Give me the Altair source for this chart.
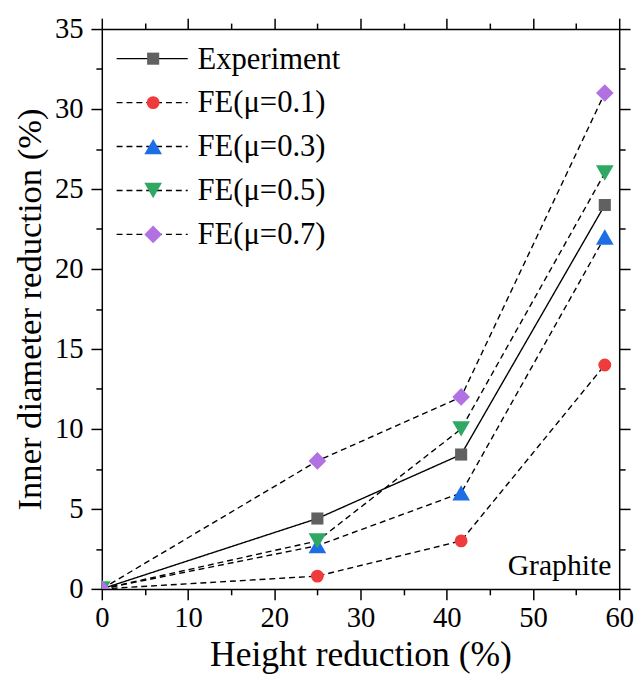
import altair as alt
import pandas as pd

# ---- data ----
height_reduction = [0, 25, 41.67, 58.33]
series_names = ["Experiment", "FE(μ=0.1)", "FE(μ=0.3)", "FE(μ=0.5)", "FE(μ=0.7)"]
experiment = [0, 4.4, 8.4, 24.0]
fe_mu01 = [0, 0.8, 3.0, 14.0]
fe_mu03 = [0, 2.7, 6.0, 22.0]
fe_mu05 = [0, 3.0, 10.0, 26.0]
fe_mu07 = [0, 8.0, 12.0, 31.0]

x_major = [0, 10, 20, 30, 40, 50, 60]
x_minor = [5, 15, 25, 35, 45, 55]
y_major = [0, 5, 10, 15, 20, 25, 30, 35]
y_minor = [2.5, 7.5, 12.5, 17.5, 22.5, 27.5, 32.5]

# ---- styles ----
colors = ["#616161", "#ef3b3b", "#1d6ee6", "#2ea862", "#b171e2"]
shapes = ["square", "circle", "triangle-up", "triangle-down", "diamond"]
sizes = [150, 170, 320, 320, 320]
dashes = [[1, 0], [6, 4], [6, 4], [6, 4], [6, 4]]
FONT = "Liberation Serif"

values = [experiment, fe_mu01, fe_mu03, fe_mu05, fe_mu07]
rows = []
for name, ys in zip(series_names, values):
    for h, d in zip(height_reduction, ys):
        rows.append({"series": name, "h": h, "d": d})
df = pd.DataFrame(rows)

xs = alt.Scale(domain=[0, 60], nice=False, zero=False)
ys_ = alt.Scale(domain=[0, 35], nice=False, zero=False)

common = dict(grid=False, domainColor="black", domainWidth=1.5, tickColor="black",
              tickWidth=1.5, labelFont=FONT, labelFontSize=29, labelColor="black",
              titleFont=FONT, titleColor="black", titleFontWeight="normal")


def xax(orient, vals, size, labels=False, domain=True, title=None, **kw):
    return alt.Axis(orient=orient, values=vals, tickSize=size, labels=labels, domain=domain,
                    title=title, **common, **kw)


base = alt.Chart(df)

lines = base.mark_line(color="black", strokeWidth=1.4).encode(
    x=alt.X("h:Q", scale=xs, axis=xax("bottom", x_major, 11, labels=True,
                                         title="Height reduction (%)", labelFlush=False,
                                         labelPadding=4, titlePadding=6, titleFontSize=36)),
    y=alt.Y("d:Q", scale=ys_, axis=xax("left", y_major, 11, labels=True,
                                          title="Inner diameter reduction (%)",
                                          labelPadding=8, titlePadding=7, titleFontSize=35)),
    strokeDash=alt.StrokeDash("series:N", scale=alt.Scale(domain=series_names, range=dashes),
                              legend=None),
    detail="series:N",
)

points = base.mark_point(filled=True, opacity=1, strokeWidth=0, clip=True).encode(
    x=alt.X("h:Q", scale=xs, axis=xax("bottom", x_minor, 6, domain=False)),
    y=alt.Y("d:Q", scale=ys_, axis=xax("left", y_minor, 6, domain=False)),
    color=alt.Color("series:N", scale=alt.Scale(domain=series_names, range=colors), legend=None),
    shape=alt.Shape("series:N", scale=alt.Scale(domain=series_names, range=shapes), legend=None),
    size=alt.Size("series:N", scale=alt.Scale(type="ordinal", domain=series_names, range=sizes),
                  legend=None),
)

top_right_major = base.mark_point(opacity=0).encode(
    x=alt.X("h:Q", scale=xs, axis=xax("top", x_major, 11)),
    y=alt.Y("d:Q", scale=ys_, axis=xax("right", y_major, 11)),
)
top_right_minor = base.mark_point(opacity=0).encode(
    x=alt.X("h:Q", scale=xs, axis=xax("top", x_minor, 6, domain=False)),
    y=alt.Y("d:Q", scale=ys_, axis=xax("right", y_minor, 6, domain=False)),
)

one = pd.DataFrame({"a": [0]})
legend_layers = []
for i, name in enumerate(series_names):
    yy = 30 + i * 44.5
    legend_layers.append(alt.Chart(one).mark_rule(color="black", strokeWidth=1.4,
                                                  strokeDash=dashes[i]).encode(
        x=alt.value(15), x2=alt.value(87), y=alt.value(yy)))
    legend_layers.append(alt.Chart(one).mark_point(filled=True, opacity=1, strokeWidth=0,
                                                   shape=shapes[i], color=colors[i],
                                                   size=sizes[i]).encode(
        x=alt.value(52), y=alt.value(yy)))
    legend_layers.append(alt.Chart(one).mark_text(align="left", baseline="middle", font=FONT,
                                                  fontSize=31, color="black").encode(
        x=alt.value(97), y=alt.value(yy + 1), text=alt.value(name)))

graphite = alt.Chart(one).mark_text(align="right", baseline="alphabetic", font=FONT,
                                    fontSize=30, color="black").encode(
    x=alt.value(516), y=alt.value(553), text=alt.value("Graphite"))

chart = alt.layer(
    lines, points, top_right_major, top_right_minor, *legend_layers, graphite
).resolve_axis(
    x="independent", y="independent"
).properties(
    width=524, height=567,
    autosize=alt.AutoSizeParams(type="none"),
    padding={"left": 95, "top": 17, "right": 16, "bottom": 92},
    background="white",
).configure_view(stroke=None)

chart.save("out.html", embed_options={"renderer": "svg", "actions": False})
